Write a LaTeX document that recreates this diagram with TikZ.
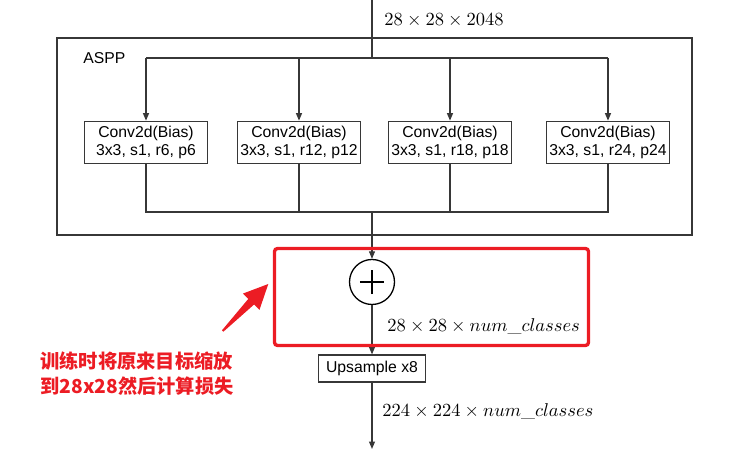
\documentclass[tikz,border=0pt]{standalone}
\usepackage{fontspec}
\setsansfont{Liberation Sans}
\newfontfamily\cjk{Noto Sans CJK SC}
\usepackage{tikz}
\usetikzlibrary{arrows.meta}
\usetikzlibrary{positioning}
\definecolor{markred}{RGB}{236,28,36}
\definecolor{linegray}{RGB}{55,55,55}

\begin{document}
\begin{tikzpicture}[x=0.54pt,y=-0.54pt,>={Triangle[length=4pt,width=3.2pt]},
	  line/.style={draw=linegray,line width=0.6pt},
	  conv node/.style={rectangle,draw=linegray,line width=0.6pt,align=center,
	    font=\sffamily\fontsize{8.5}{10}\selectfont,minimum width=66pt,minimum height=23pt,inner sep=1pt},
	  sum node/.style={circle,draw=black,line width=0.7pt,minimum size=24.3pt,inner sep=0pt,
	    path picture={\draw[line width=0.6pt] ([xshift=-6.5pt]path picture bounding box.center) -- ([xshift=6.5pt]path picture bounding box.center)
	      ([yshift=-6.5pt]path picture bounding box.center) -- ([yshift=6.5pt]path picture bounding box.center);}},
	  dim label/.style={anchor=west,inner sep=0pt},
	  note/.style={text=markred,font=\cjk\bfseries\fontsize{10.4}{13.5}\selectfont,align=left,inner sep=0pt}]
	
	 \useasboundingbox (0,0) rectangle (743,472);
	
	 % ASPP frame
	 \node[rectangle,draw=linegray,line width=0.6pt,minimum width=342.9pt,minimum height=106.4pt,inner sep=0pt] (aspp) at (374.5,136.5) {};
	 \node[anchor=west,inner sep=0pt,font=\sffamily\fontsize{8.5}{10}\selectfont] (asppname) at (83,58) {ASPP};
	
	 \coordinate (in) at (372,0);
	 \coordinate (split) at (372,58);
	 \coordinate (merge) at (372,212);
	 \coordinate (out) at (372,449);
	
	 \node[conv node] (c1) at (146,142.5) {Conv2d(Bias)\\3x3, s1, r6, p6};
	 \node[conv node] (c2) at (299,142.5) {Conv2d(Bias)\\3x3, s1, r12, p12};
	 \node[conv node] (c3) at (450,142.5) {Conv2d(Bias)\\3x3, s1, r18, p18};
	 \node[conv node] (c4) at (608,142.5) {Conv2d(Bias)\\3x3, s1, r24, p24};
	
	 \node[sum node] (sum) at (372,282) {};
	 \node[conv node,minimum width=58pt,minimum height=14.6pt] (up) at (372,368.5) {Upsample x8};
	
	 \draw[line] (in) -- (split);
	 \draw[line] (c1 |- split) -- (c4 |- split);
	 \foreach \c in {c1,c2,c3,c4}
	    \draw[line,->] (\c |- split) -- (\c);
	 \draw[line] (c1) -- (c1 |- merge) -- (c4 |- merge) -- (c4);
	 \draw[line] (c2) -- (c2 |- merge);
	 \draw[line] (c3) -- (c3 |- merge);
	 \draw[line,->] (merge) -- (sum);
	 \draw[line,->] (sum) -- (up);
	 \draw[line,->] (up) -- (out);
	
	 \node[dim label] (inlabel) at (384,20) {$28\times28\times2048$};
	 \node[dim label] (sumlabel) at (387,326) {$28\times28\times num\_classes$};
	 \node[dim label] (outlabel) at (382,411) {$224\times224\times num\_classes$};
	
	 % red remark
	 \node[draw=markred,line width=1.8pt,rounded corners=1.5pt,minimum width=169.5pt,minimum height=52.3pt,inner sep=0pt] (focus) at (431.5,297) {};
	 \fill[markred] (222,330.3) -- (248.3,298.9) -- (242.9,293.6) -- (268.3,284) -- (259.5,309.8) -- (254.1,304.5) -- (223.4,331.7) -- cycle;
	 \node[note,anchor=north west] (remark) at (40,351) {训练时将原来目标缩放\\到28x28然后计算损失};
	\end{tikzpicture}
\end{document}
